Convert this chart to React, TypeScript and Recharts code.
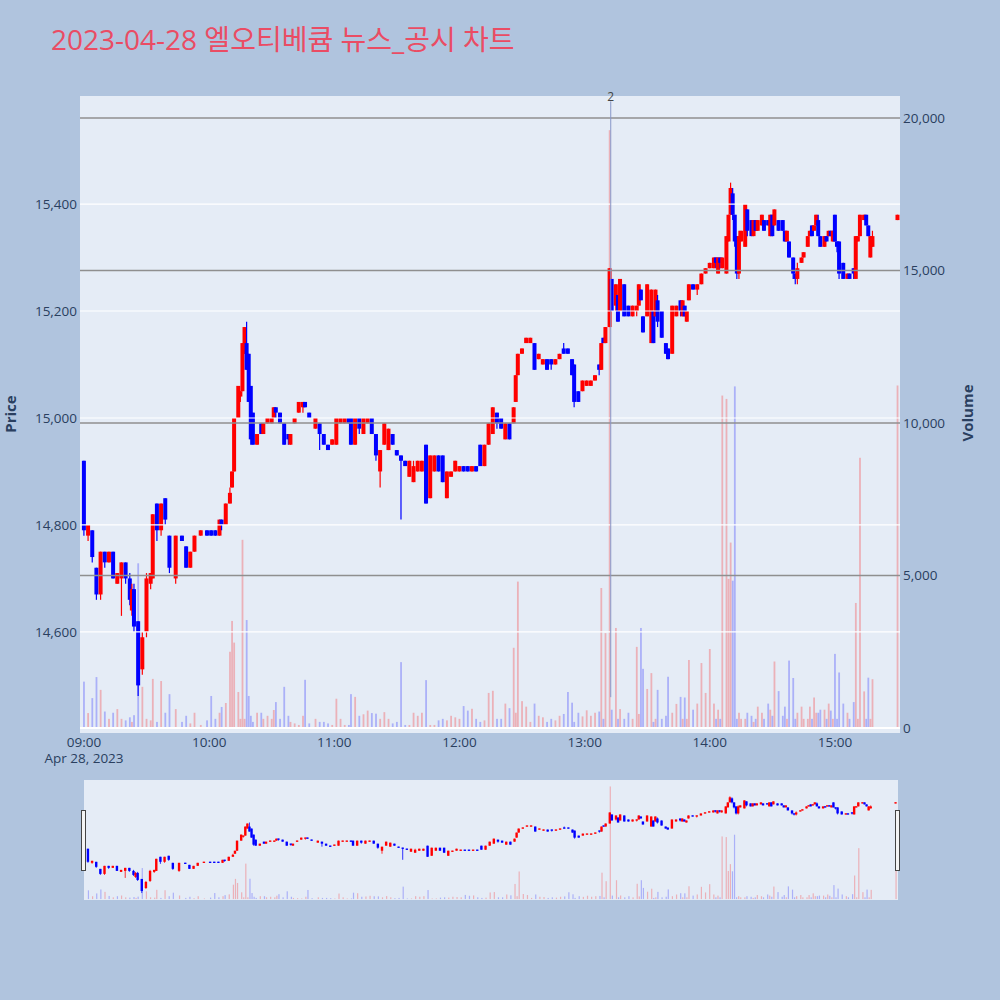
import React from 'react';
import { ComposedChart, Bar, XAxis, YAxis, CartesianGrid, ReferenceLine, ReferenceDot } from 'recharts';

// [minute after 09:00, open, high, low, close, volume]
type Candle = [number, number, number, number, number, number];

const hour09: Candle[] = [
  [0, 14920, 14920, 14780, 14790, 1520],
  [2, 14780, 14800, 14770, 14800, 490],
  [4, 14790, 14790, 14730, 14740, 980],
  [6, 14720, 14720, 14660, 14670, 1670],
  [8, 14670, 14750, 14660, 14750, 1250],
  [10, 14750, 14750, 14720, 14730, 540],
  [12, 14730, 14750, 14730, 14750, 300],
  [14, 14750, 14750, 14700, 14700, 500],
  [16, 14690, 14710, 14690, 14710, 620],
  [18, 14700, 14730, 14630, 14730, 300],
  [20, 14730, 14730, 14690, 14700, 250],
  [22, 14700, 14710, 14650, 14660, 350],
  [23, 14640, 14690, 14630, 14680, 200],
  [24, 14680, 14690, 14600, 14610, 420],
  [26, 14620, 14620, 14480, 14500, 5400],
  [28, 14530, 14600, 14520, 14590, 1350],
  [30, 14600, 14710, 14590, 14700, 300],
  [32, 14690, 14710, 14680, 14710, 250],
  [33, 14700, 14820, 14700, 14820, 1610],
  [35, 14840, 14840, 14770, 14790, 200],
  [37, 14790, 14840, 14780, 14840, 1540],
  [39, 14850, 14850, 14800, 14810, 500],
  [41, 14780, 14780, 14710, 14720, 1110],
  [44, 14700, 14780, 14690, 14780, 620],
  [47, 14780, 14780, 14770, 14770, 200],
  [49, 14760, 14760, 14720, 14720, 400],
  [51, 14720, 14750, 14720, 14750, 150],
  [53, 14750, 14780, 14750, 14780, 500],
  [56, 14780, 14790, 14780, 14790, 100],
  [59, 14790, 14790, 14780, 14780, 250],
];

const hour10: Candle[] = [
  [61, 14790, 14790, 14780, 14780, 1050],
  [63, 14790, 14790, 14780, 14780, 300],
  [65, 14780, 14810, 14780, 14810, 500],
  [66, 14810, 14810, 14790, 14800, 690],
  [68, 14800, 14840, 14800, 14840, 820],
  [70, 14840, 14870, 14840, 14860, 2500],
  [71, 14870, 14900, 14870, 14900, 3510],
  [72, 14900, 15000, 14900, 15000, 2800],
  [74, 15000, 15060, 15000, 15060, 1180],
  [75, 15040, 15050, 15030, 15050, 300],
  [76, 15050, 15140, 15050, 15140, 6170],
  [77, 15120, 15170, 15120, 15170, 300],
  [78, 15140, 15180, 15090, 15090, 3540],
  [79, 15120, 15120, 15030, 15030, 1050],
  [80, 15060, 15060, 14950, 14960, 400],
  [81, 15010, 15010, 14950, 14950, 200],
  [83, 14950, 14970, 14950, 14970, 500],
  [85, 14990, 14990, 14970, 14970, 500],
  [86, 14970, 14990, 14970, 14990, 300],
  [88, 14990, 15000, 14990, 15000, 400],
  [90, 14990, 15000, 14990, 15000, 300],
  [91, 15000, 15020, 15000, 15020, 590],
  [92, 15020, 15020, 15000, 15010, 850],
  [94, 15010, 15010, 14990, 14990, 300],
  [96, 14990, 14990, 14950, 14950, 1350],
  [98, 14970, 14970, 14950, 14960, 400],
  [99, 14950, 14970, 14950, 14970, 200],
  [101, 14990, 15000, 14990, 15000, 150],
  [103, 15010, 15030, 15010, 15030, 100],
  [105, 15020, 15030, 15010, 15030, 400],
  [106, 15030, 15030, 15020, 15020, 1580],
  [108, 15010, 15010, 15000, 15000, 150],
  [111, 14980, 15000, 14980, 15000, 300],
  [113, 14990, 14990, 14940, 14970, 200],
  [115, 14970, 14970, 14950, 14950, 200],
  [117, 14950, 14950, 14940, 14940, 150],
  [119, 14950, 14960, 14950, 14960, 100],
];

const hour11: Candle[] = [
  [121, 14950, 15000, 14950, 15000, 960],
  [123, 14990, 15000, 14990, 15000, 300],
  [125, 14990, 15000, 14990, 15000, 100],
  [127, 15000, 15000, 14990, 14990, 100],
  [128, 15000, 15000, 14950, 14950, 1110],
  [130, 14950, 15000, 14950, 15000, 1020],
  [132, 15000, 15000, 14970, 14980, 400],
  [134, 14970, 15000, 14970, 15000, 450],
  [136, 14990, 15000, 14990, 15000, 570],
  [138, 15000, 15000, 14970, 14970, 490],
  [140, 14970, 14970, 14920, 14930, 470],
  [142, 14900, 14940, 14870, 14940, 300],
  [144, 14950, 14990, 14950, 14990, 520],
  [146, 14940, 14980, 14940, 14980, 300],
  [148, 14970, 14970, 14950, 14950, 150],
  [150, 14940, 14940, 14930, 14930, 200],
  [152, 14930, 14930, 14810, 14920, 2160],
  [154, 14920, 14920, 14910, 14910, 100],
  [156, 14890, 14920, 14890, 14920, 100],
  [158, 14880, 14920, 14880, 14910, 500],
  [160, 14900, 14920, 14900, 14920, 400],
  [162, 14900, 14920, 14900, 14920, 500],
  [164, 14950, 14950, 14840, 14840, 1570],
  [166, 14850, 14930, 14850, 14930, 100],
  [168, 14900, 14930, 14900, 14930, 100],
  [170, 14930, 14930, 14900, 14900, 250],
  [172, 14930, 14930, 14880, 14880, 300],
  [174, 14850, 14900, 14850, 14900, 250],
  [176, 14890, 14900, 14890, 14900, 400],
  [178, 14900, 14920, 14900, 14920, 350],
];

const hour12: Candle[] = [
  [180, 14900, 14910, 14900, 14910, 300],
  [182, 14910, 14910, 14900, 14900, 720],
  [184, 14910, 14910, 14900, 14900, 570],
  [186, 14900, 14910, 14900, 14910, 630],
  [188, 14910, 14910, 14900, 14900, 300],
  [190, 14950, 14950, 14910, 14910, 200],
  [192, 14910, 14950, 14910, 14950, 250],
  [194, 14950, 14990, 14950, 14990, 1150],
  [196, 14970, 15020, 14970, 15020, 1220],
  [198, 15010, 15010, 14980, 14990, 300],
  [200, 15000, 15000, 14980, 14980, 300],
  [202, 14960, 14990, 14960, 14990, 800],
  [204, 14990, 14990, 14960, 14960, 650],
  [206, 14990, 15020, 14990, 15020, 2630],
  [207, 15030, 15080, 15030, 15080, 500],
  [208, 15080, 15120, 15080, 15120, 4800],
  [210, 15120, 15130, 15120, 15130, 880],
  [212, 15140, 15150, 15140, 15150, 700],
  [214, 15140, 15150, 15140, 15150, 200],
  [216, 15140, 15140, 15090, 15090, 800],
  [218, 15110, 15120, 15110, 15120, 400],
  [220, 15100, 15110, 15100, 15110, 350],
  [222, 15110, 15110, 15090, 15090, 200],
  [224, 15110, 15110, 15090, 15100, 300],
  [226, 15100, 15110, 15100, 15110, 250],
  [228, 15110, 15120, 15110, 15120, 400],
  [230, 15130, 15140, 15120, 15120, 460],
  [232, 15130, 15130, 15120, 15120, 1180],
  [234, 15110, 15110, 15080, 15080, 830],
  [235, 15100, 15100, 15020, 15030, 200],
  [237, 15050, 15050, 15030, 15030, 500],
  [239, 15050, 15070, 15050, 15070, 380],
];

const hour13: Candle[] = [
  [241, 15060, 15070, 15060, 15070, 580],
  [243, 15060, 15070, 15060, 15070, 400],
  [245, 15070, 15080, 15070, 15080, 500],
  [247, 15100, 15100, 15080, 15090, 540],
  [248, 15090, 15140, 15090, 15140, 4590],
  [249, 15150, 15150, 15140, 15140, 300],
  [250, 15140, 15170, 15140, 15170, 3110],
  [252, 15170, 15280, 15170, 15280, 19600],
  [253, 15260, 15260, 15200, 15200, 600],
  [255, 15210, 15250, 15200, 15250, 3280],
  [256, 15230, 15230, 15180, 15180, 300],
  [257, 15200, 15260, 15200, 15260, 620],
  [259, 15250, 15250, 15190, 15190, 300],
  [261, 15210, 15210, 15190, 15190, 500],
  [263, 15190, 15210, 15190, 15210, 300],
  [265, 15200, 15210, 15190, 15210, 2660],
  [266, 15210, 15250, 15210, 15250, 460],
  [267, 15240, 15240, 15220, 15220, 3280],
  [268, 15190, 15190, 15160, 15160, 1940],
  [270, 15190, 15250, 15190, 15250, 1280],
  [272, 15140, 15240, 15140, 15240, 1800],
  [273, 15200, 15200, 15140, 15140, 200],
  [274, 15190, 15240, 15190, 15240, 300],
  [275, 15220, 15230, 15170, 15180, 1250],
  [277, 15200, 15200, 15150, 15150, 300],
  [279, 15140, 15140, 15120, 15120, 400],
  [280, 15130, 15130, 15110, 15110, 1680],
  [282, 15120, 15210, 15120, 15210, 500],
  [284, 15190, 15210, 15190, 15210, 790],
  [286, 15220, 15220, 15190, 15200, 1020],
  [287, 15190, 15220, 15190, 15220, 300],
  [288, 15210, 15210, 15190, 15190, 1000],
  [289, 15180, 15200, 15180, 15200, 300],
  [290, 15220, 15250, 15220, 15250, 2230],
  [292, 15250, 15250, 15240, 15240, 600],
  [294, 15240, 15250, 15230, 15250, 800],
  [296, 15250, 15270, 15250, 15270, 2130],
  [298, 15270, 15280, 15270, 15280, 1150],
];

const hour14: Candle[] = [
  [300, 15280, 15290, 15280, 15290, 2590],
  [302, 15280, 15300, 15280, 15300, 800],
  [303, 15300, 15300, 15280, 15290, 300],
  [304, 15270, 15300, 15270, 15300, 600],
  [305, 15300, 15300, 15280, 15290, 300],
  [306, 15280, 15300, 15280, 15300, 10900],
  [308, 15270, 15340, 15270, 15340, 10790],
  [309, 15330, 15380, 15330, 15380, 4890],
  [310, 15380, 15440, 15380, 15430, 6080],
  [311, 15420, 15430, 15370, 15380, 4830],
  [312, 15380, 15380, 15320, 15330, 11200],
  [313, 15340, 15340, 15260, 15270, 300],
  [314, 15270, 15350, 15260, 15340, 500],
  [315, 15330, 15350, 15330, 15350, 300],
  [317, 15320, 15400, 15320, 15400, 300],
  [318, 15390, 15390, 15340, 15350, 500],
  [320, 15370, 15370, 15340, 15340, 400],
  [321, 15340, 15370, 15340, 15370, 200],
  [322, 15370, 15370, 15350, 15350, 300],
  [323, 15350, 15370, 15350, 15370, 700],
  [325, 15360, 15380, 15360, 15380, 500],
  [326, 15370, 15370, 15350, 15350, 300],
  [328, 15370, 15370, 15360, 15360, 800],
  [329, 15340, 15380, 15340, 15380, 600],
  [330, 15380, 15380, 15340, 15340, 400],
  [331, 15360, 15390, 15360, 15390, 2180],
  [333, 15370, 15370, 15350, 15350, 1210],
  [335, 15370, 15370, 15350, 15350, 400],
  [336, 15350, 15350, 15330, 15330, 700],
  [337, 15330, 15350, 15330, 15350, 300],
  [338, 15330, 15330, 15300, 15300, 2210],
  [340, 15300, 15300, 15260, 15270, 1640],
  [341, 15270, 15270, 15250, 15260, 300],
  [342, 15260, 15290, 15250, 15280, 500],
  [344, 15290, 15300, 15290, 15300, 700],
  [345, 15300, 15310, 15300, 15310, 300],
  [347, 15320, 15340, 15320, 15340, 300],
  [348, 15340, 15350, 15340, 15350, 700],
  [349, 15360, 15360, 15340, 15340, 300],
  [350, 15350, 15360, 15350, 15360, 1000],
  [351, 15360, 15380, 15360, 15380, 500],
  [352, 15370, 15380, 15340, 15340, 500],
  [353, 15340, 15340, 15320, 15320, 600],
  [355, 15320, 15340, 15320, 15340, 600],
  [356, 15340, 15340, 15330, 15330, 300],
  [357, 15340, 15350, 15340, 15350, 800],
  [358, 15350, 15350, 15340, 15340, 570],
  [359, 15330, 15350, 15330, 15350, 300],
];

const hour15: Candle[] = [
  [360, 15380, 15380, 15330, 15330, 2430],
  [361, 15330, 15330, 15310, 15320, 300],
  [362, 15330, 15330, 15260, 15270, 1820],
  [364, 15290, 15290, 15260, 15260, 800],
  [366, 15260, 15270, 15260, 15270, 500],
  [367, 15270, 15270, 15260, 15260, 300],
  [369, 15280, 15280, 15260, 15270, 850],
  [370, 15260, 15340, 15260, 15340, 4100],
  [371, 15330, 15340, 15330, 15340, 300],
  [372, 15340, 15380, 15340, 15380, 8860],
  [374, 15370, 15380, 15370, 15380, 1200],
  [375, 15380, 15380, 15360, 15360, 300],
  [376, 15360, 15360, 15340, 15340, 1650],
  [377, 15300, 15340, 15300, 15340, 300],
  [378, 15320, 15350, 15320, 15340, 1600],
  [390, 15370, 15380, 15370, 15380, 11230],
];

const timeTicks = [0, 60, 120, 180, 240, 300, 360];
const timeLabels = ['09:00', '10:00', '11:00', '12:00', '13:00', '14:00', '15:00'];
const dateLabel = 'Apr 28, 2023';
const priceTicks = [14600, 14800, 15000, 15200, 15400];
const volumeTicks = [0, 5000, 10000, 15000, 20000];
const newsMarkers = [{ t: 252.5, count: '2', from: 14478, to: 15592 }];
const titleText = '2023-04-28 엘오티베큠 뉴스_공시 차트';

const X_DOMAIN: [number, number] = [-1.92, 391.16];
const PRICE_DOMAIN: [number, number] = [14411, 15602];
const VOL_DOMAIN: [number, number] = [-164, 20721];

const UP = '#ff0000';
const DOWN = '#0000ff';
const TICK = '#2a3f5f';
const FONT = '"Open Sans", "Noto Sans CJK KR", verdana, arial, sans-serif';

const rows = [...hour09, ...hour10, ...hour11, ...hour12, ...hour13, ...hour14, ...hour15].map(
  ([t, o, h, l, c, v]) => ({ t, o, h, l, c, v, range: [l, h] as [number, number], up: c >= o })
);

function candleShape(bodyW: number, minBody: number, wickW: number) {
  return (props: any) => {
    const { x, y, width, height, payload } = props;
    if (payload == null || !Number.isFinite(x) || !Number.isFinite(y)) return <g />;
    const cx = x + (width || 0) / 2;
    const top = height >= 0 ? y : y + height;
    const span = Math.abs(height || 0);
    const { o, h, l, c } = payload;
    const k = h > l ? span / (h - l) : 0;
    const color = c >= o ? UP : DOWN;
    let bTop = top + (h - Math.max(o, c)) * k;
    let bH = Math.abs(o - c) * k;
    if (bH < minBody) {
      bTop -= (minBody - bH) / 2;
      bH = minBody;
    }
    return (
      <g>
        <line x1={cx} x2={cx} y1={top} y2={top + span} stroke={color} strokeWidth={wickW} />
        <rect x={cx - bodyW / 2} y={bTop} width={bodyW} height={bH} fill={color} />
      </g>
    );
  };
}

function volumeShape(w: number) {
  return (props: any) => {
    const { x, y, width, height, payload } = props;
    if (payload == null || !Number.isFinite(x) || !Number.isFinite(y)) return <g />;
    const cx = x + (width || 0) / 2;
    const top = height >= 0 ? y : y + height;
    return (
      <rect
        x={cx - w / 2}
        y={top}
        width={w}
        height={Math.abs(height || 0)}
        fill={payload.up ? UP : DOWN}
        fillOpacity={0.25}
      />
    );
  };
}

const mainCandle = candleShape(4, 2, 1.2);
const mainVolume = volumeShape(1.8);
const sliderCandle = candleShape(2.4, 1.3, 0.8);
const sliderVolume = volumeShape(1.2);

const fmt = (v: number) => v.toLocaleString('en-US');

const TimeTick = (props: any) => {
  const { x, y, payload } = props;
  const i = timeTicks.indexOf(payload.value);
  return (
    <g>
      <text x={x} y={y} dy="0.71em" textAnchor="middle" fill={TICK} fontSize={13.5}>
        {timeLabels[i]}
      </text>
      {i === 0 && (
        <text x={x} y={y + 16} dy="0.71em" textAnchor="middle" fill={TICK} fontSize={13.5}>
          {dateLabel}
        </text>
      )}
    </g>
  );
};

export default function App() {
  return (
    <div
      style={{
        position: 'fixed',
        left: 0,
        top: 0,
        width: 1000,
        height: 1000,
        background: '#b0c4de',
        fontFamily: FONT,
        overflow: 'hidden',
      }}
    >
      <div style={{ position: 'absolute', left: 0, top: 0 }}>
        <ComposedChart width={1000} height={780} data={rows} margin={{ top: 96, right: 40, bottom: 7, left: 20 }}>
          <CartesianGrid
            xAxisId="x"
            yAxisId="p"
            horizontal={false}
            vertical={false}
            fill="#e5ecf6"
            fillOpacity={1}
          />
          <XAxis
            xAxisId="x"
            dataKey="t"
            type="number"
            domain={X_DOMAIN}
            allowDataOverflow
            ticks={timeTicks}
            interval={0}
            tick={<TimeTick />}
            tickLine={false}
            axisLine={false}
            tickSize={0}
            tickMargin={4}
            height={40}
          />
          <XAxis xAxisId="xv" dataKey="t" type="number" domain={X_DOMAIN} allowDataOverflow hide />
          <YAxis
            yAxisId="p"
            orientation="left"
            type="number"
            domain={PRICE_DOMAIN}
            allowDataOverflow
            ticks={priceTicks}
            interval={0}
            width={60}
            tickLine={false}
            axisLine={false}
            tickSize={0}
            tickMargin={3}
            tickFormatter={fmt}
            tick={{ fill: TICK, fontSize: 13.5 }}
          />
          <YAxis
            yAxisId="v"
            orientation="right"
            type="number"
            domain={VOL_DOMAIN}
            allowDataOverflow
            ticks={volumeTicks}
            interval={0}
            width={60}
            tickLine={false}
            axisLine={false}
            tickSize={0}
            tickMargin={3}
            tickFormatter={fmt}
            tick={{ fill: TICK, fontSize: 13.5 }}
          />
          {priceTicks.map((p) => (
            <ReferenceLine key={'pg' + p} xAxisId="x" yAxisId="p" y={p} stroke="#ffffff" strokeWidth={1.2} />
          ))}
          {volumeTicks
            .filter((v) => v > 0)
            .map((v) => (
              <ReferenceLine key={'vg' + v} xAxisId="x" yAxisId="v" y={v} stroke="#8f8f8f" strokeWidth={1.3} />
            ))}
          <ReferenceLine xAxisId="x" yAxisId="v" y={0} stroke="#ffffff" strokeWidth={2} />
          <Bar xAxisId="xv" yAxisId="v" dataKey="v" barSize={2} shape={mainVolume} isAnimationActive={false} />
          <Bar xAxisId="x" yAxisId="p" dataKey="range" barSize={3} shape={mainCandle} isAnimationActive={false} />
          {newsMarkers.map((m) => (
            <ReferenceLine
              key={'l' + m.t}
              xAxisId="x"
              yAxisId="p"
              segment={[
                { x: m.t, y: m.to },
                { x: m.t, y: m.from },
              ]}
              stroke="#8797c8"
              strokeWidth={1}
            />
          ))}
          {newsMarkers.map((m) => (
            <ReferenceDot
              key={'d' + m.t}
              xAxisId="x"
              yAxisId="p"
              x={m.t}
              y={m.to}
              r={0}
              fill="none"
              stroke="none"
              label={{ value: m.count, position: 'top', offset: 0, fill: '#444', fontSize: 12 }}
            />
          ))}
        </ComposedChart>
      </div>

      <div style={{ position: 'absolute', left: 0, top: 770 }}>
        <ComposedChart width={1000} height={140} data={rows} margin={{ top: 10, right: 102, bottom: 10, left: 84 }}>
          <CartesianGrid
            xAxisId="x"
            yAxisId="p"
            horizontal={false}
            vertical={false}
            fill="#e5ecf6"
            fillOpacity={1}
          />
          <XAxis xAxisId="x" dataKey="t" type="number" domain={X_DOMAIN} allowDataOverflow hide />
          <XAxis xAxisId="xv" dataKey="t" type="number" domain={X_DOMAIN} allowDataOverflow hide />
          <YAxis yAxisId="p" type="number" domain={PRICE_DOMAIN} allowDataOverflow hide />
          <YAxis yAxisId="v" type="number" domain={VOL_DOMAIN} allowDataOverflow hide />
          <Bar xAxisId="xv" yAxisId="v" dataKey="v" barSize={1} shape={sliderVolume} isAnimationActive={false} />
          <Bar xAxisId="x" yAxisId="p" dataKey="range" barSize={2} shape={sliderCandle} isAnimationActive={false} />
        </ComposedChart>
      </div>

      <svg
        width={1000}
        height={1000}
        style={{ position: 'absolute', left: 0, top: 0, pointerEvents: 'none' }}
      >
        <text x={51} y={50} fontSize={28} fill="#ea4c64">
          {titleText}
        </text>
        <text
          x={10}
          y={414}
          fontSize={15}
          fontWeight="bold"
          fill={TICK}
          textAnchor="middle"
          dominantBaseline="central"
          transform="rotate(-90 10 414)"
        >
          Price
        </text>
        <text
          x={967}
          y={413}
          fontSize={15}
          fontWeight="bold"
          fill={TICK}
          textAnchor="middle"
          dominantBaseline="central"
          transform="rotate(-90 967 413)"
        >
          Volume
        </text>
        <rect x={81.5} y={810.5} width={4} height={60} fill="#f4f4f4" stroke="#444" strokeWidth={1} />
        <rect x={895.5} y={810.5} width={4} height={60} fill="#f4f4f4" stroke="#444" strokeWidth={1} />
      </svg>
    </div>
  );
}
